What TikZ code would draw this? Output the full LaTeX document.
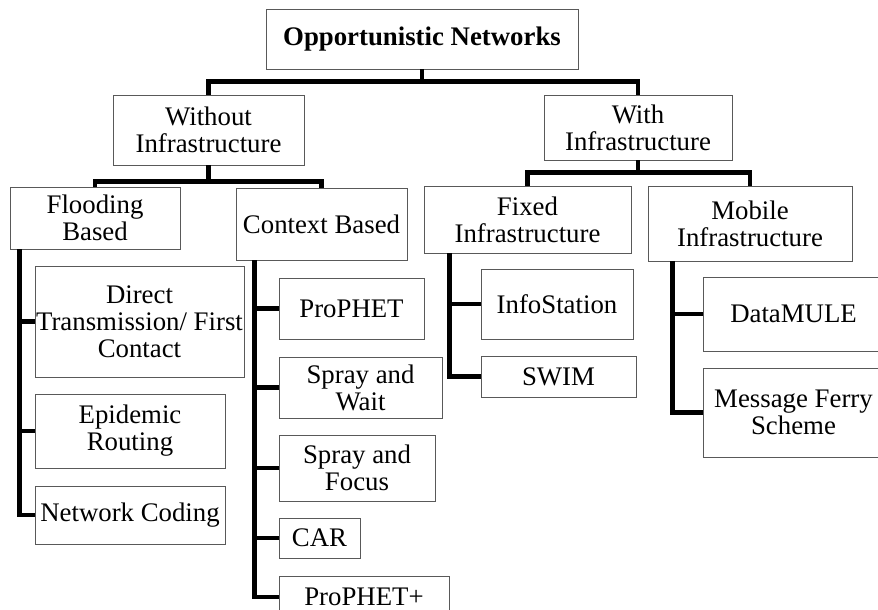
\documentclass[tikz,border=0pt]{standalone}
\usepackage{fontspec}
\setmainfont{Liberation Serif}

\begin{document}
\begin{tikzpicture}[
    x = 1pt,
    y = -1pt,
    box/.style = {
        draw = black!65,
        line width = 0.9pt,
        inner sep = 0pt,
        align = center,
        font = \fontsize{26.8pt}{27pt}\selectfont
    },
    dims/.style 2 args = {minimum width = #1pt, minimum height = #2pt},
    root/.style = {box, font = \fontsize{26.8pt}{27pt}\selectfont\bfseries},
    link/.style = {line width = 4.5pt, black}
]
\useasboundingbox (0,0) rectangle (878,610);
\clip (0,0) rectangle (878,610);

% Top level
\node[root, dims = {312}{60}] (opnet) at (422,39) {Opportunistic Networks};

% Two main classes
\node[box, dims = {191}{70}] (without) at (208.5,130) {Without\\Infrastructure};
\node[box, dims = {188}{65}] (with) at (638,127.5) {With\\Infrastructure};

% Sub classes
\node[box, dims = {170}{62}] (flooding) at (95,218) {Flooding\\Based};
\node[box, dims = {171}{72}] (context) at (321.5,224) {Context Based};
\node[box, dims = {207}{67}] (fixed) at (527.5,219.5) {Fixed\\Infrastructure};
\node[box, dims = {204}{75}] (mobile) at (750,223.5) {Mobile\\Infrastructure};

% Flooding based protocols
\node[box, dims = {209}{111}] (direct) at (139.5,321.5) {Direct\\Transmission/ First\\Contact};
\node[box, dims = {190}{74}] (epidemic) at (130,431) {Epidemic\\Routing};
\node[box, dims = {190}{58}] (netcoding) at (130,515) {Network Coding};

% Context based protocols
\node[box, dims = {145}{61}] (prophet) at (351.5,308.5) {ProPHET};
\node[box, dims = {163}{61}] (spraywait) at (360.5,387.5) {Spray and\\Wait};
\node[box, dims = {156}{66}] (sprayfocus) at (357,468) {Spray and\\Focus};
\node[box, dims = {81}{40}] (car) at (319.5,538) {CAR};
\node[box, dims = {170}{42}] (prophetplus) at (364,597) {ProPHET+};

% Fixed infrastructure
\node[box, dims = {152}{70}] (infostation) at (557,304) {InfoStation};
\node[box, dims = {155}{41}] (swim) at (558.5,376.5) {SWIM};

% Mobile infrastructure
\node[box, dims = {181}{74}] (datamule) at (793.5,314) {DataMULE};
\node[box, dims = {181}{89}] (ferry) at (793.5,412.5) {Message Ferry\\Scheme};

% Tree connectors
\draw[link] (opnet.south) -- ++(0,12) -| (without.north);
\draw[link] (opnet.south) -- ++(0,12) -| (with.north);
\draw[link] (without.south) -- ++(0,16) -| (flooding.north);
\draw[link] (without.south) -- ++(0,16) -| (context.north);
\draw[link] (with.south) -- ++(0,12) -| (fixed.north);
\draw[link] (with.south) -- ++(0,12) -| (mobile.north);

\foreach \leaf in {direct, epidemic, netcoding}
    \draw[link] ([xshift = 10pt]flooding.south west) |- (\leaf.west);
\foreach \leaf in {prophet, spraywait, sprayfocus, car, prophetplus}
    \draw[link] ([xshift = 19pt]context.south west) |- (\leaf.west);
\foreach \leaf in {infostation, swim}
    \draw[link] ([xshift = 26pt]fixed.south west) |- (\leaf.west);
\foreach \leaf in {datamule, ferry}
    \draw[link] ([xshift = 25pt]mobile.south west) |- (\leaf.west);

\end{tikzpicture}
\end{document}
